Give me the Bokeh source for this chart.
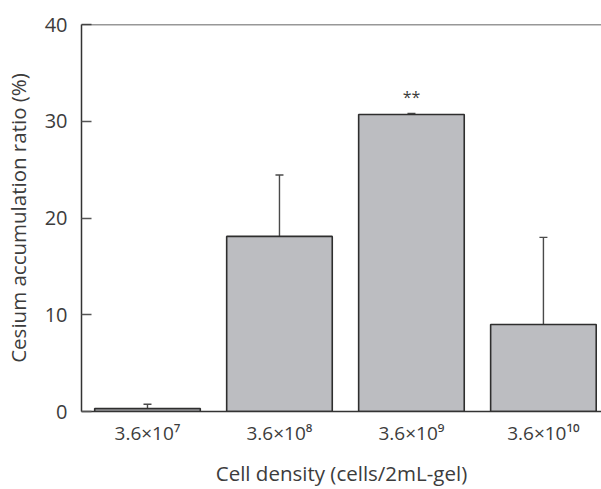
from bokeh.plotting import figure
from bokeh.models import Range1d, ColumnDataSource, Whisker, TeeHead, FixedTicker, Span
from bokeh.core.properties import value
from bokeh.embed import file_html
from bokeh.resources import INLINE

categories = ["3.6×10⁷", "3.6×10⁸", "3.6×10⁹", "3.6×10¹⁰"]
means = [0.3, 18.1, 30.7, 9.0]
errors = [0.45, 6.35, 0.1, 9.0]
significance = ["", "", "**", ""]
y_ticks = [0, 10, 20, 30, 40]

xs = list(range(1, len(categories) + 1))
src = ColumnDataSource(dict(
    x=xs, top=means,
    upper=[m + e for m, e in zip(means, errors)],
    lower=[max(0, m - e) for m, e in zip(means, errors)],
))

FONT = "Open Sans"
TXT = "#3c3c3c"

p = figure(width=601, height=489, output_backend="svg", toolbar_location=None,
           x_range=Range1d(0.5, 4.44), y_range=Range1d(0, 40),
           min_border_left=81, min_border_right=0, min_border_top=24, min_border_bottom=78)
p.outline_line_color = None
p.grid.visible = False
p.background_fill_color = "white"
p.border_fill_color = "white"

p.vbar(x="x", top="top", width=0.8, bottom=0, source=src,
       fill_color="#bcbdc1", line_color="#2e2e2e", line_width=1.6)

w = Whisker(base="x", upper="upper", lower="lower", source=src,
            line_color="#4a4a4a", line_width=1.4,
            upper_head=TeeHead(size=8, line_color="#4a4a4a", line_width=1.4),
            lower_head=TeeHead(size=8, line_color="#4a4a4a", line_width=1.4))
p.add_layout(w)

star_x = [x for x, s in zip(xs, significance) if s]
star_y = [m + e + 1.7 for m, e, s in zip(means, errors, significance) if s]
star_t = [s for s in significance if s]
p.text(x=star_x, y=star_y, text=star_t, text_align="center", text_baseline="middle",
       text_font=value(FONT), text_font_size="16px", text_color=TXT)

p.add_layout(Span(location=40, dimension="width", line_color="#333333", line_width=1.6))

# y axis
p.yaxis.ticker = FixedTicker(ticks=y_ticks)
p.yaxis.major_tick_in = 10
p.yaxis.major_tick_out = 0
p.yaxis.minor_tick_line_color = None
p.yaxis.axis_line_color = "#333333"
p.yaxis.axis_line_width = 1.5
p.yaxis.major_tick_line_color = "#555555"
p.yaxis.major_tick_line_width = 1.5
p.yaxis.major_label_text_font = FONT
p.yaxis.major_label_text_font_size = "20px"
p.yaxis.major_label_text_color = TXT
p.yaxis.major_label_standoff = 14
p.yaxis.axis_label = "Cesium accumulation ratio (%)"
p.yaxis.axis_label_text_font = FONT
p.yaxis.axis_label_text_font_size = "20.5px"
p.yaxis.axis_label_text_font_style = "normal"
p.yaxis.axis_label_text_color = TXT
p.yaxis.axis_label_standoff = 10

# x axis
p.xaxis.ticker = FixedTicker(ticks=xs)
p.xaxis.major_label_overrides = {x: c for x, c in zip(xs, categories)}
p.xaxis.major_tick_in = 0
p.xaxis.major_tick_out = 0
p.xaxis.minor_tick_line_color = None
p.xaxis.axis_line_color = "#333333"
p.xaxis.axis_line_width = 1.5
p.xaxis.major_label_text_font = FONT
p.xaxis.major_label_text_font_size = "19px"
p.xaxis.major_label_text_color = TXT
p.xaxis.major_label_standoff = 8
p.xaxis.axis_label = "Cell density (cells/2mL-gel)"
p.xaxis.axis_label_text_font = FONT
p.xaxis.axis_label_text_font_size = "20.5px"
p.xaxis.axis_label_text_font_style = "normal"
p.xaxis.axis_label_text_color = TXT
p.xaxis.axis_label_standoff = 10

open("out.html", "w").write(file_html(p, INLINE))
